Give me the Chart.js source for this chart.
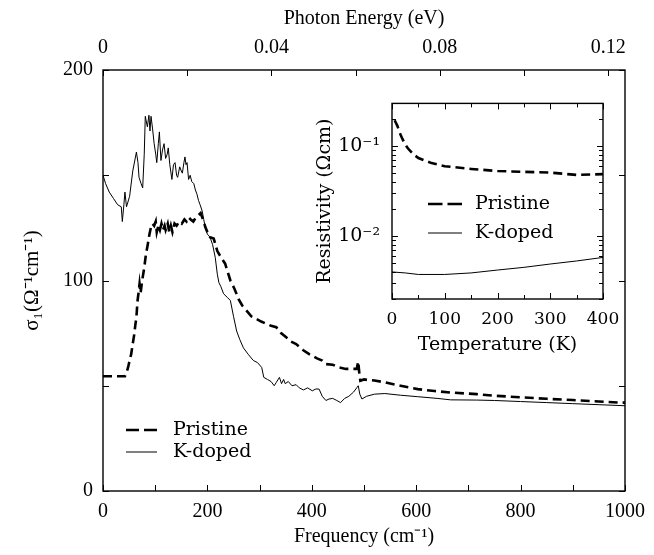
<!DOCTYPE html>
<html>
<head>
<meta charset="utf-8">
<script src="https://cdn.jsdelivr.net/npm/chart.js@4"></script>
<style>
  body { margin: 0; background: #fff; }
  #wrap { position: relative; width: 654px; height: 555px; }
  #main { position: absolute; left: 0; top: 0; }
  #inset { position: absolute; left: 300px; top: 80px; }
</style>
</head>
<body>
<div id="wrap">
  <canvas id="main" width="654" height="555"></canvas>
  <canvas id="inset" width="335" height="300"></canvas>
</div>
<script>
// --- main panel data: optical conductivity vs frequency ---
const freqPristine = [0, 10, 20, 30, 42, 46, 48, 51, 54, 57, 60, 62, 64, 66, 68, 70, 72, 75, 79, 82, 86, 89, 92, 95, 98, 101, 103, 106, 109, 112, 115, 118, 120, 124, 127, 130, 133, 137, 141, 146, 151, 156, 160, 164, 168, 173, 178, 183, 187, 190, 193, 196, 200, 205, 212, 219, 226, 234, 239, 244, 252, 260, 267, 275, 284, 294, 303, 313, 322, 332, 341, 351, 360, 370, 383, 395, 410, 420, 427, 440, 452, 465, 477, 486, 489, 491, 493, 500, 508, 520, 540, 570, 603, 635, 666, 716, 754, 800, 850, 900, 950, 987, 1000];
const sigmaPristine = [54.5, 54.5, 54.5, 54.5, 54.5, 57, 58.7, 62, 65, 70, 74.6, 79, 82.5, 90, 94, 98.4, 94, 100, 106, 112, 117.5, 122, 125.4, 127, 126, 128, 123, 126, 124, 127, 124, 126, 124, 127, 123, 126, 123, 127, 126, 128, 127, 129, 128, 130, 129, 128, 130, 131, 132, 130, 128, 125.4, 123, 120.6, 120, 114, 111, 108, 104, 100, 96, 91, 88, 85.7, 83, 81.7, 80.5, 79.4, 78.5, 77.8, 75, 73, 71, 69.8, 67, 65, 63, 62, 60.3, 60, 58.7, 58, 58, 58, 61.5, 56, 52.4, 53, 52.7, 52.5, 51.6, 50, 48.4, 47.5, 46.8, 46, 45.2, 44.5, 43.8, 43.2, 42.5, 42, 42];

const freqKdoped = [0, 5, 12, 20, 28, 35, 37, 40, 42, 45, 51, 57, 64, 67, 69, 73, 76, 79, 81, 85, 88, 90, 92, 95, 98, 101, 103, 106, 108, 111, 114, 117, 120, 123, 125, 128, 132, 135, 138, 141, 143, 147, 150, 152, 155, 157, 159, 161, 164, 167, 170, 174, 177, 180, 183, 186, 190, 193, 196, 200, 205, 210, 215, 219, 222, 226, 231, 238, 244, 250, 256, 262, 269, 278, 288, 296, 304, 308, 315, 322, 328, 332, 338, 342, 346, 349, 355, 362, 370, 376, 384, 392, 401, 408, 414, 420, 427, 433, 440, 448, 455, 463, 471, 480, 486, 489, 492, 496, 505, 520, 540, 570, 603, 640, 666, 716, 750, 800, 850, 900, 950, 1000];
const sigmaKdoped = [150, 146, 142, 139, 136, 135, 128, 136, 142, 135, 140, 152, 161, 156, 149, 146, 144, 160, 178, 173, 178.5, 171, 178, 172, 165, 160, 156, 165, 170.6, 157, 162, 165, 158, 160, 163, 155, 148, 155, 156, 150, 149, 154, 152, 151, 156, 158.7, 155, 156, 148, 150, 147, 146, 143, 141, 138, 136, 133, 129, 125, 122, 120.6, 117, 111, 103, 99, 97, 93.7, 92, 90.5, 83, 76, 72, 68, 65, 62, 61, 58.7, 54, 53, 52, 50, 51.6, 54, 51, 53, 51, 52, 50, 50.5, 49, 48, 49, 47.6, 48.5, 48.4, 45, 43, 43.7, 44, 43, 42, 44, 45, 47, 49, 50, 46, 43.7, 45, 46, 46.3, 45.5, 44.8, 44, 43.3, 43.2, 43, 42.5, 42, 41.5, 41, 40.5];

const CM_PER_EV = 8065.54;
const freqTicks = [0, 100, 200, 300, 400, 500, 600, 700, 800, 900, 1000];
const freqTickLabels = ['0', '', '200', '', '400', '', '600', '', '800', '', '1000'];
const energyTicks = [0, 0.02, 0.04, 0.06, 0.08, 0.10, 0.12];
const energyTickLabels = ['0', '', '0.04', '', '0.08', '', '0.12'];
const sigmaTicks = [0, 50, 100, 150, 200];
const sigmaTickLabels = ['0', '', '100', '', '200'];

// --- inset data: resistivity vs temperature ---
const tempPristine = [5, 10, 15, 20, 25, 30, 40, 50, 75, 100, 150, 200, 250, 300, 350, 400];
const rhoPristine = [0.195, 0.17, 0.14, 0.12, 0.105, 0.095, 0.082, 0.074, 0.065, 0.06, 0.056, 0.053, 0.052, 0.051, 0.048, 0.049];
const tempKdoped = [0, 25, 50, 100, 150, 200, 250, 300, 350, 400];
const rhoKdoped = [0.004, 0.0039, 0.00375, 0.00375, 0.0039, 0.0042, 0.0045, 0.0049, 0.0053, 0.0058];

const tempTicks = [0, 50, 100, 150, 200, 250, 300, 350, 400];
const tempTickLabels = ['0', '', '100', '', '200', '', '300', '', '400'];
const rhoTicks = [0.002, 0.003, 0.004, 0.005, 0.006, 0.007, 0.008, 0.009, 0.01, 0.02, 0.03, 0.04, 0.05, 0.06, 0.07, 0.08, 0.09, 0.1, 0.2, 0.3];
const rhoTickLabels = ['', '', '', '', '', '', '', '', '10\u207B\u00B2', '', '', '', '', '', '', '', '', '10\u207B\u00B9', '', ''];

const pts = (xs, ys) => xs.map((x, i) => ({ x: x, y: ys[i] }));

// frame + inward tick marks on chosen sides
const frameTicks = {
  id: 'frameTicks',
  afterDatasetsDraw(chart, args, opts) {
    const { ctx, chartArea: a } = chart;
    ctx.save();
    ctx.strokeStyle = '#000';
    ctx.lineWidth = 1.4;
    ctx.strokeRect(a.left, a.top, a.right - a.left, a.bottom - a.top);
    ctx.lineWidth = 1;
    (opts.marks || []).forEach(m => {
      const s = chart.scales[m.scale];
      s.ticks.forEach(t => {
        const p = Math.round(s.getPixelForValue(t.value)) + 0.5;
        const len = t.label ? m.major : m.minor;
        ctx.beginPath();
        m.sides.forEach(side => {
          if (side === 'bottom') { ctx.moveTo(p, a.bottom); ctx.lineTo(p, a.bottom - len); }
          if (side === 'top') { ctx.moveTo(p, a.top); ctx.lineTo(p, a.top + len); }
          if (side === 'left') { ctx.moveTo(a.left, p); ctx.lineTo(a.left + len, p); }
          if (side === 'right') { ctx.moveTo(a.right, p); ctx.lineTo(a.right - len, p); }
        });
        ctx.stroke();
      });
    });
    ctx.restore();
  }
};

// small legend drawn inside the plot
const boxLegend = {
  id: 'boxLegend',
  afterDraw(chart, args, o) {
    const ctx = chart.ctx;
    ctx.save();
    chart.data.datasets.forEach((ds, i) => {
      const y = o.y + i * o.dy;
      ctx.strokeStyle = '#000';
      ctx.lineWidth = ds.borderWidth;
      ctx.setLineDash(ds.borderDash ? o.dash : []);
      ctx.beginPath();
      ctx.moveTo(o.x, y);
      ctx.lineTo(o.x + o.len, y);
      ctx.stroke();
      ctx.setLineDash([]);
      ctx.fillStyle = '#000';
      ctx.font = o.font;
      ctx.textBaseline = 'middle';
      ctx.fillText(ds.label, o.x + o.len + o.gap, y);
    });
    ctx.restore();
  }
};

const serif = 'Liberation Serif';
const cm = 'DejaVu Serif';

new Chart(document.getElementById('main'), {
  type: 'line',
  data: {
    datasets: [
      { label: 'Pristine', data: pts(freqPristine, sigmaPristine), borderColor: '#000', borderWidth: 2.6, borderDash: [9, 5], pointRadius: 0, tension: 0, xAxisID: 'x', yAxisID: 'y' },
      { label: 'K-doped', data: pts(freqKdoped, sigmaKdoped), borderColor: '#000', borderWidth: 1, pointRadius: 0, tension: 0, xAxisID: 'x', yAxisID: 'y' }
    ]
  },
  options: {
    responsive: false,
    animation: false,
    devicePixelRatio: 1,
    layout: { padding: { left: 0, right: 23, top: 0, bottom: 0 } },
    plugins: {
      legend: { display: false },
      tooltip: { enabled: false },
      frameTicks: {
        marks: [
          { scale: 'x', sides: ['bottom'], major: 6, minor: 6 },
          { scale: 'x2', sides: ['top'], major: 6, minor: 6 },
          { scale: 'y', sides: ['left', 'right'], major: 6, minor: 6 }
        ]
      },
      boxLegend: { x: 126, y: 430, dy: 22, len: 31, gap: 16, dash: [13, 5], font: '19px "' + cm + '"' }
    },
    scales: {
      x: {
        type: 'linear', position: 'bottom', min: 0, max: 1000,
        grid: { display: false, drawTicks: false }, border: { display: false },
        afterBuildTicks: s => { s.ticks = freqTicks.map(v => ({ value: v })); },
        afterFit: s => { s.height = 64; },
        ticks: { autoSkip: false, maxRotation: 0, padding: 9, color: '#000', font: { family: serif, size: 20 },
          callback: (v, i) => freqTickLabels[i] },
        title: { display: true, text: 'Frequency (cm\u207B\u00B9)', color: '#000', font: { family: serif, size: 20 }, padding: { top: 0, bottom: 6 } }
      },
      x2: {
        type: 'linear', position: 'top', min: 0, max: 1000 / CM_PER_EV,
        grid: { display: false, drawTicks: false }, border: { display: false },
        afterBuildTicks: s => { s.ticks = energyTicks.map(v => ({ value: v })); },
        afterFit: s => { s.height = 70; },
        ticks: { autoSkip: false, maxRotation: 0, padding: 10, color: '#000', font: { family: serif, size: 20 },
          callback: (v, i) => energyTickLabels[i] },
        title: { display: true, text: 'Photon Energy (eV)', color: '#000', font: { family: serif, size: 20 }, padding: { top: 7, bottom: 0 } }
      },
      y: {
        type: 'linear', position: 'left', min: 0, max: 200,
        grid: { display: false, drawTicks: false }, border: { display: false },
        afterBuildTicks: s => { s.ticks = sigmaTicks.map(v => ({ value: v })); },
        afterFit: s => { s.width = 103; },
        ticks: { autoSkip: false, padding: 10, color: '#000', font: { family: serif, size: 20 },
          callback: (v, i) => sigmaTickLabels[i] },
        title: { display: true, text: '\u03C3\u2081(\u03A9\u207B\u00B9cm\u207B\u00B9)', color: '#000', font: { family: serif, size: 21 }, padding: { top: 20, bottom: 0 } }
      }
    }
  },
  plugins: [frameTicks, boxLegend]
});

new Chart(document.getElementById('inset'), {
  type: 'line',
  data: {
    datasets: [
      { label: 'Pristine', data: pts(tempPristine, rhoPristine), borderColor: '#000', borderWidth: 2.6, borderDash: [9, 5], pointRadius: 0, tension: 0 },
      { label: 'K-doped', data: pts(tempKdoped, rhoKdoped), borderColor: '#000', borderWidth: 1, pointRadius: 0, tension: 0 }
    ]
  },
  options: {
    responsive: false,
    animation: false,
    devicePixelRatio: 1,
    layout: { padding: { left: 0, right: 32, top: 9, bottom: 0 } },
    plugins: {
      legend: { display: false },
      tooltip: { enabled: false },
      frameTicks: {
        marks: [
          { scale: 'x', sides: ['bottom', 'top'], major: 6, minor: 4 },
          { scale: 'y', sides: ['left', 'right'], major: 6, minor: 4 }
        ]
      },
      boxLegend: { x: 128, y: 124, dy: 29, len: 34, gap: 13, dash: [14.5, 5], font: '19px "' + cm + '"' }
    },
    scales: {
      x: {
        type: 'linear', position: 'bottom', min: 0, max: 400,
        grid: { display: false, drawTicks: false }, border: { display: false },
        afterBuildTicks: s => { s.ticks = tempTicks.map(v => ({ value: v })); },
        afterFit: s => { s.height = 81; },
        ticks: { autoSkip: false, maxRotation: 0, padding: 10, color: '#000', font: { family: cm, size: 17 },
          callback: (v, i) => tempTickLabels[i] },
        title: { display: true, text: 'Temperature (K)', color: '#000', font: { family: cm, size: 19 }, padding: { top: 0, bottom: 24 } }
      },
      y: {
        type: 'logarithmic', position: 'left', min: 0.002, max: 0.3,
        grid: { display: false, drawTicks: false }, border: { display: false },
        afterBuildTicks: s => { s.ticks = rhoTicks.map(v => ({ value: v })); },
        afterFit: s => { s.width = 92; },
        ticks: { autoSkip: false, padding: 12, color: '#000', font: { family: cm, size: 19 },
          callback: (v, i) => rhoTickLabels[i] },
        title: { display: true, text: 'Resistivity (\u03A9cm)', color: '#000', font: { family: cm, size: 19 }, padding: { top: 14, bottom: 0 } }
      }
    }
  },
  plugins: [frameTicks, boxLegend]
});
</script>
</body>
</html>
